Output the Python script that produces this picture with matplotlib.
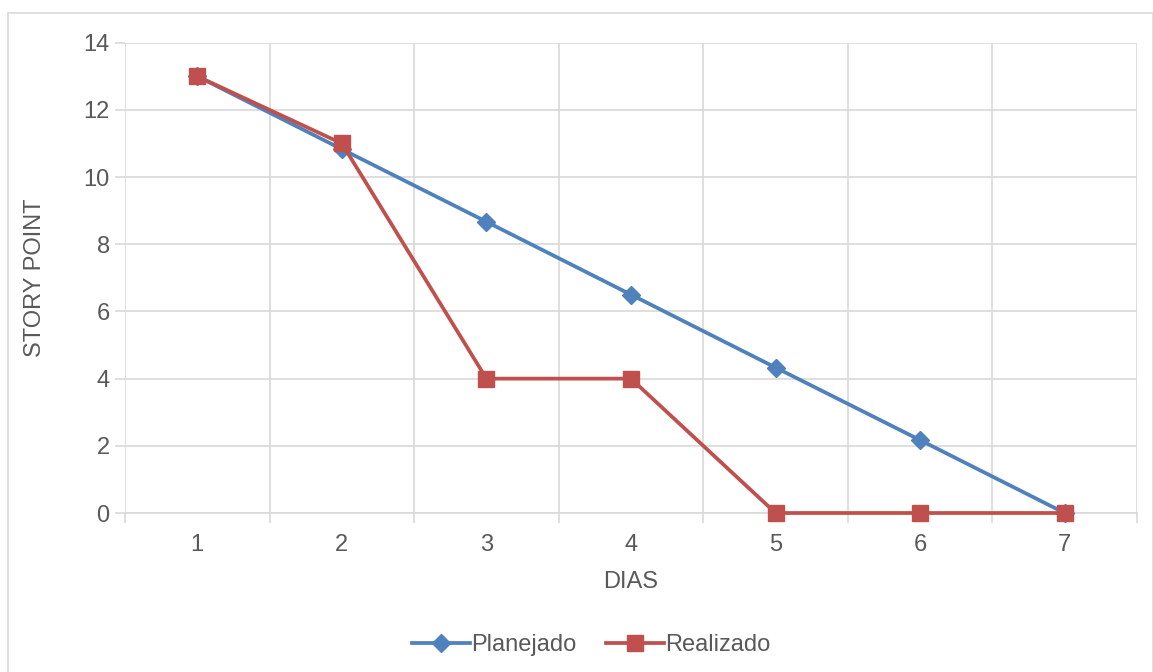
import matplotlib.pyplot as plt
from matplotlib.patches import Rectangle
from matplotlib.ticker import FixedLocator, NullFormatter

plt.rcParams['font.family'] = ['Liberation Sans', 'DejaVu Sans']

dias = [1, 2, 3, 4, 5, 6, 7]
planejado = [13, 10.83, 8.67, 6.5, 4.33, 2.17, 0]
realizado = [13, 11, 4, 4, 0, 0, 0]
y_ticks = [0, 2, 4, 6, 8, 10, 12, 14]

text_color = '#595959'
grid_color = '#D9D9D9'
blue = '#4F81BD'
red = '#C0504D'
fs = 17

W, H = 1153, 672
fig = plt.figure(figsize=(W / 100, H / 100), dpi=100)
fig.patch.set_facecolor('white')

# chart frame
fig.add_artist(Rectangle((8 / W, -0.01), (W - 8) / W, 1 - 13 / H + 0.01,
                         transform=fig.transFigure, fill=False,
                         edgecolor=grid_color, linewidth=1.2))

left, right, top, bottom = 125, 1137, 42.7, 513
ax = fig.add_axes([left / W, 1 - bottom / H, (right - left) / W, (bottom - top) / H])

pos = list(range(len(dias)))
ax.plot(pos, planejado, color=blue, linewidth=2.7, marker='D', markersize=9,
        markerfacecolor=blue, markeredgecolor=blue, label='Planejado', zorder=3,
        clip_on=False)
ax.plot(pos, realizado, color=red, linewidth=2.7, marker='s', markersize=11,
        markerfacecolor=red, markeredgecolor=red, label='Realizado', zorder=4,
        clip_on=False)

ax.set_xlim(-0.5, len(dias) - 0.5)
ax.set_ylim(0, 14)
ax.set_yticks(y_ticks)
ax.set_yticklabels([str(v) for v in y_ticks])
ax.set_xticks(pos)
ax.set_xticklabels([str(d) for d in dias])
ax.xaxis.set_minor_locator(FixedLocator([p - 0.5 for p in range(len(dias) + 1)]))
ax.xaxis.set_minor_formatter(NullFormatter())

ax.tick_params(axis='x', which='major', length=0, labelsize=fs, labelcolor=text_color, pad=15)
ax.tick_params(axis='x', which='minor', length=7, width=1.2, color=grid_color, direction='out')
ax.tick_params(axis='y', length=7, width=1.2, color=grid_color, labelsize=fs,
               labelcolor=text_color, pad=4)

ax.grid(True, axis='y', color=grid_color, linewidth=1.2)
ax.grid(True, axis='x', which='minor', color=grid_color, linewidth=1.2)
ax.set_axisbelow(True)
for s in ['top', 'right', 'left']:
    ax.spines[s].set_visible(False)
ax.spines['bottom'].set_color(grid_color)
ax.spines['bottom'].set_linewidth(1.2)

ax.set_xlabel('DIAS', fontsize=fs, color=text_color, labelpad=11)
ax.set_ylabel('STORY POINT', fontsize=fs, color=text_color, labelpad=27)

fig.legend(loc='center', bbox_to_anchor=(591 / W, 1 - 645 / H), ncol=2, frameon=False,
           fontsize=fs, labelcolor=text_color, handlelength=2.45, handletextpad=0.05,
           columnspacing=1.25)

fig.savefig('out.png', dpi=100)
